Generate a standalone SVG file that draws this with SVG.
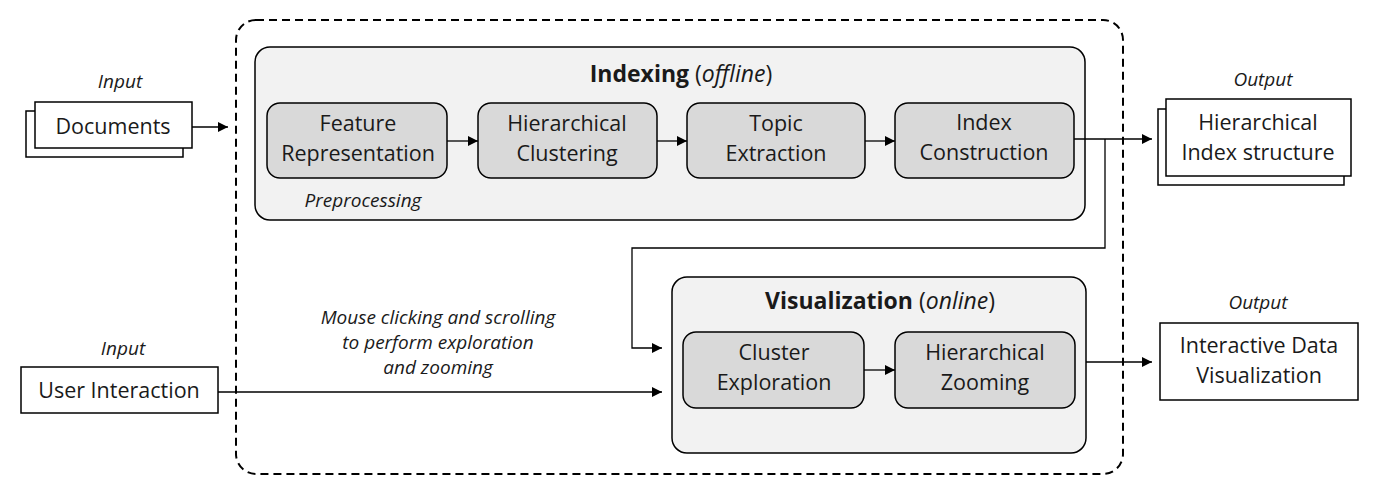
<svg xmlns="http://www.w3.org/2000/svg" width="1375" height="495" viewBox="0 0 1375 495">
<style>
text{font-family:"Open Sans","Noto Sans","Liberation Sans",sans-serif;fill:#1a1a1a;text-anchor:middle}
.t{font-size:21.5px}
.i{font-size:19px;font-style:italic}
.h{font-size:23px;font-weight:bold}
.box{fill:#fff;stroke:#000;stroke-width:1.5}
.grp{fill:#f2f2f2;stroke:#000;stroke-width:1.5}
.step{fill:#d9d9d9;stroke:#000;stroke-width:1.5}
.ln{fill:none;stroke:#000;stroke-width:1.3}
</style>
<defs>
<marker id="ah" markerWidth="10" markerHeight="10" refX="10" refY="5" orient="auto" markerUnits="userSpaceOnUse">
<path d="M0,0 L10,5 L0,10 Z" fill="#000"/>
</marker>
</defs>
<rect id="boundary" x="236" y="20" width="887" height="454" rx="20" fill="none" stroke="#000" stroke-width="2" stroke-dasharray="8,5"/>

<g id="indexing">
<rect class="grp" x="255" y="47" width="830" height="173" rx="15"/>
<text class="h" x="681" y="82">Indexing <tspan font-weight="normal">(<tspan font-style="italic">offline</tspan>)</tspan></text>
</g>
<g id="feature">
<rect class="step" x="267" y="103" width="180" height="75" rx="13"/>
<text class="t" x="358" y="131">Feature</text>
<text class="t" x="358" y="161">Representation</text>
<text class="i" x="363" y="207">Preprocessing</text>
</g>
<g id="clustering">
<rect class="step" x="478" y="103" width="179" height="75" rx="13"/>
<text class="t" x="567" y="131">Hierarchical</text>
<text class="t" x="567" y="161">Clustering</text>
</g>
<g id="topic">
<rect class="step" x="687" y="103" width="178" height="75" rx="13"/>
<text class="t" x="776" y="131">Topic</text>
<text class="t" x="776" y="161">Extraction</text>
</g>
<g id="index">
<rect class="step" x="895" y="103" width="179" height="75" rx="13"/>
<text class="t" x="984" y="130">Index</text>
<text class="t" x="984" y="160">Construction</text>
</g>

<g id="visualization">
<rect class="grp" x="672" y="277" width="414" height="176" rx="15"/>
<text class="h" x="880" y="309">Visualization <tspan font-weight="normal">(<tspan font-style="italic">online</tspan>)</tspan></text>
</g>
<g id="cluster-exploration">
<rect class="step" x="683" y="332" width="181" height="76" rx="13"/>
<text class="t" x="774" y="360">Cluster</text>
<text class="t" x="774" y="390">Exploration</text>
</g>
<g id="zooming">
<rect class="step" x="895" y="332" width="180" height="76" rx="13"/>
<text class="t" x="985" y="360">Hierarchical</text>
<text class="t" x="985" y="390">Zooming</text>
</g>

<g id="documents">
<text class="i" x="120" y="88">Input</text>
<rect class="box" x="26" y="111" width="157" height="46"/>
<rect class="box" x="35" y="102" width="157" height="46"/>
<text class="t" x="113" y="134">Documents</text>
</g>
<g id="user-interaction">
<text class="i" x="123" y="355">Input</text>
<rect class="box" x="21" y="367" width="197" height="46"/>
<text class="t" x="119" y="398">User Interaction</text>
</g>
<g id="index-structure">
<text class="i" x="1263" y="86">Output</text>
<rect class="box" x="1158" y="109" width="186" height="76"/>
<rect class="box" x="1166" y="99" width="185" height="77"/>
<text class="t" x="1258" y="130">Hierarchical</text>
<text class="t" x="1258" y="160">Index structure</text>
</g>
<g id="data-vis">
<text class="i" x="1258" y="309">Output</text>
<rect class="box" x="1160" y="323" width="198" height="77"/>
<text class="t" x="1259" y="353">Interactive Data</text>
<text class="t" x="1259" y="383">Visualization</text>
</g>

<g id="connectors">
<line class="ln" x1="192" y1="127" x2="228" y2="127" marker-end="url(#ah)"/>
<line class="ln" x1="447" y1="141" x2="478" y2="141" marker-end="url(#ah)"/>
<line class="ln" x1="657" y1="141" x2="687" y2="141" marker-end="url(#ah)"/>
<line class="ln" x1="865" y1="141" x2="895" y2="141" marker-end="url(#ah)"/>
<line class="ln" x1="1074" y1="139" x2="1152" y2="139" marker-end="url(#ah)"/>
<polyline class="ln" points="1105,139 1105,248 632,248 632,348 662,348" marker-end="url(#ah)"/>
<line class="ln" x1="218" y1="392" x2="662" y2="392" marker-end="url(#ah)"/>
<line class="ln" x1="864" y1="370" x2="895" y2="370" marker-end="url(#ah)"/>
<line class="ln" x1="1086" y1="362" x2="1152" y2="362" marker-end="url(#ah)"/>
<text class="i" x="438" y="324">Mouse clicking and scrolling</text>
<text class="i" x="438" y="349">to perform exploration</text>
<text class="i" x="438" y="374">and zooming</text>
</g>
</svg>
